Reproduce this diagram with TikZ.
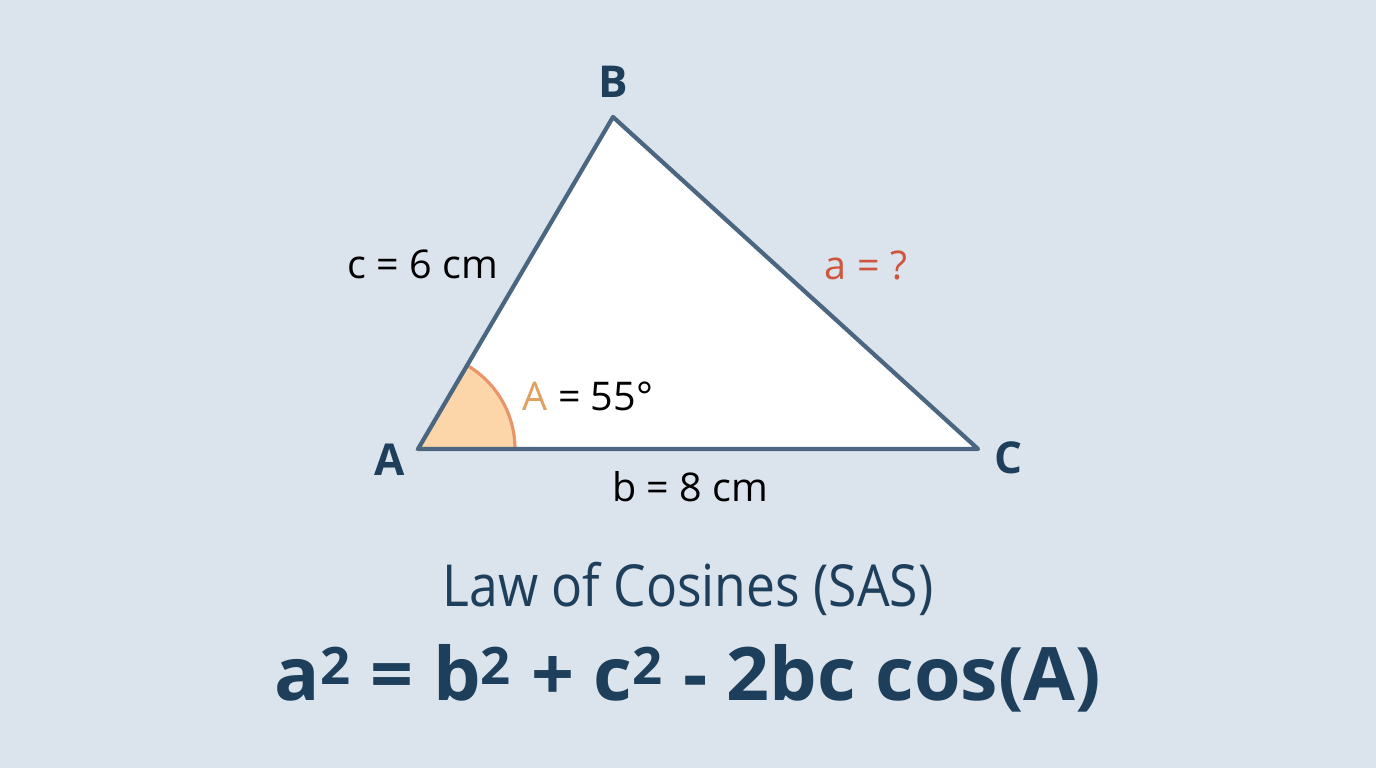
\documentclass[tikz,border=0pt]{standalone}
\usepackage{fontspec}
\setmainfont{Open Sans}
\usetikzlibrary{positioning}
\definecolor{bgcol}{HTML}{DBE4EC}
\definecolor{navy}{HTML}{1E3F5C}
\definecolor{edgecol}{HTML}{4B6680}
\definecolor{angfill}{HTML}{FCD6A8}
\definecolor{angline}{HTML}{E8956A}
\definecolor{angtext}{HTML}{DFA060}
\definecolor{redtext}{HTML}{CF553C}
\tikzstyle{vertex} = [text=navy, font=\fontsize{25}{29}\selectfont\bfseries, inner sep=0pt]
\tikzstyle{side} = [text=black, font=\fontsize{22.5}{26}\selectfont, inner sep=0pt]
\tikzstyle{edge} = [draw=edgecol, line width=2.4pt, line join=round]

\begin{document}
\begin{tikzpicture}[x=0.02cm, y=0.02cm]
	\fill[bgcol] (0,0) rectangle (1376,768);
	\useasboundingbox (0,0) rectangle (1376,768);

	% corners of the triangle
	\coordinate (A) at (418,319);
	\coordinate (B) at (613,651);
	\coordinate (C) at (978,319);

	\fill[white] (A) -- (B) -- (C) -- cycle;
	\filldraw[fill=angfill, draw=angline, line width=1.8pt] (A) -- ++(0:97) arc (0:59.6:97) -- cycle;
	\path[edge] (A) -- (B) -- (C) -- cycle;

	\node [vertex] (labB) at (613,686) {B};
	\node [vertex] (labA) at (390,308) {A};
	\node [vertex] (labC) at (1008,310) {C};

	\node [side] (sideC) at (423,504) {c = 6 cm};
	\node [side, text=redtext] (sideA) at (866,503) {a = ?};
	\node [side] (sideB) at (690,281) {b = 8 cm};
	\node [side] (angA) at (588,372) {\textcolor{angtext}{A} = 55°};

	\node [text=navy, font=\fontsize{33}{38}\selectfont, inner sep=0pt] (title) at (688,179) {\scalebox{0.89}[1]{Law of Cosines (SAS)}};
	\node [text=navy, font=\fontsize{42}{48}\selectfont\bfseries, inner sep=0pt] (formula) at (688,90) {\scalebox{1.02}[1]{a\textsuperscript{2} = b\textsuperscript{2} + c\textsuperscript{2} - 2bc cos(A)}};
\end{tikzpicture}
\end{document}
